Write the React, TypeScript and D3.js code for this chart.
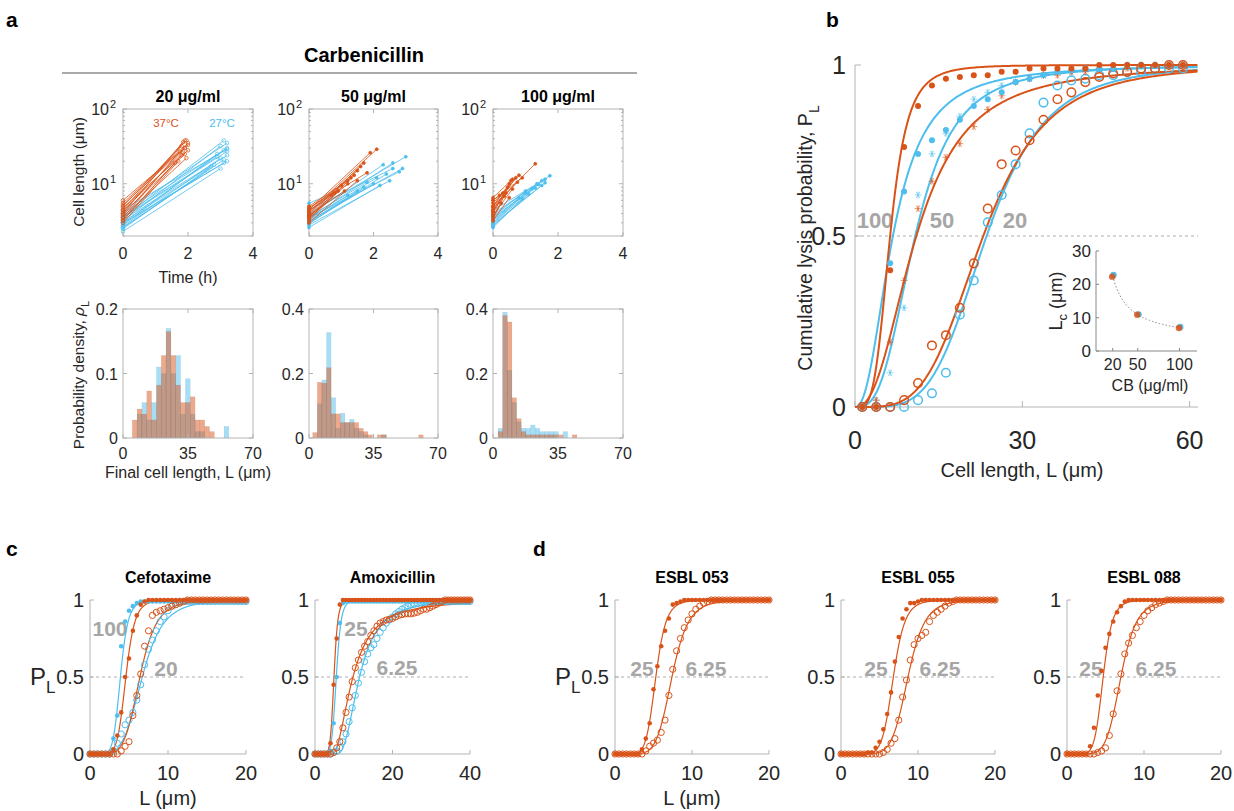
import React, { useEffect, useRef } from "react";
import * as d3 from "d3";

const ORANGE = "#D95319";
const BLUE = "#4DBEEE";
const AXIS = "#b3b3b3";
const INK = "#262626";
const NOTE = "#a6a6a6";
const FONT = "'Liberation Sans', Arial, Helvetica, sans-serif";

// panel a, growth traces: [end time (h), start length, end length] (um)
const growth20Hot = [[1.9,4.5,38],[1.95,5,38],[1.85,4,36],[2.0,5.5,35],[1.8,4.2,32],[1.9,3.8,30],[2.0,4.8,28],[1.75,3.5,27],[1.9,4.0,25],[1.8,3.2,24],[1.95,3.6,22],[1.7,3.0,20],[1.85,4.4,26],[2.0,6,33],[1.6,3.3,19],[1.9,5.2,30]];
const growth20Cold = [[3.1,3.5,38],[3.2,4,35],[3.0,3.2,32],[3.2,3.8,30],[3.1,3.0,28],[3.2,3.5,27],[2.9,2.8,25],[3.2,3.3,24],[3.0,2.7,22],[3.2,3.0,20],[2.8,2.5,18],[3.1,2.9,19],[2.9,3.6,23],[3.0,2.3,16],[3.2,4.5,29],[2.6,2.6,15],[3.1,2.6,21],[2.7,3.1,17]];
const growth50Hot = [[2.1,4.2,29],[1.9,4.5,26],[1.7,3.8,19],[1.6,4,17],[1.5,3.6,15],[1.8,4.8,14],[1.4,3.4,13],[1.2,3.5,10],[1.0,4.2,9.5],[1.1,3.8,8],[0.9,3.2,8],[1.3,4.6,12],[0.8,3.6,7.5],[1.5,3,11],[1.2,5,11],[0.7,4.4,7]];
const growth50Cold = [[3.0,4,23],[2.6,3.5,19],[2.3,3.8,18],[2.9,3.2,16],[2.8,3.5,14.5],[2.4,3,13.5],[2.1,3.3,12],[2.5,2.8,11],[2.0,3.0,10],[1.8,3.6,10.5],[2.2,2.6,9.5],[1.7,3.1,9],[2.6,4.5,16],[1.5,2.9,8],[1.2,3.4,7],[0.9,5.5,8]];
const growth100Hot = [[1.3,5,18.5],[0.8,5.5,13],[0.7,4.5,12],[0.6,5,11.5],[0.5,4.2,10],[0.9,6,12],[0.45,4,9],[0.55,6.5,11],[0.3,5,7.5],[0.4,3.6,7.5],[0.35,4.4,6.8],[0.25,3.4,5.5],[0.6,3.8,8.5],[0.2,6,7],[0.75,4.8,10.5],[0.5,3.2,6.5]];
const growth100Cold = [[1.75,4,12.8],[1.6,3.5,11.5],[1.5,3.8,11],[1.4,3.2,9.8],[1.3,3.0,8.8],[1.5,2.9,9.5],[1.2,3.4,8.6],[1.0,3.0,7.5],[1.1,2.7,7.3],[1.35,4.4,10],[0.9,2.6,6.3],[1.0,3.6,8],[1.6,2.8,10.3],[0.8,3.2,6.5]];

// panel a, histograms of final length (density per bin)
const hist20Hot = [0.028,0.045,0.037,0.073,0.028,0.082,0.128,0.165,0.128,0.082,0.055,0.055,0.064,0.028,0.028,0.018,0.01,0,0,0];
const hist20Cold = [0,0.037,0.055,0.028,0.055,0.11,0.1,0.17,0.1,0.128,0.037,0.092,0.037,0.01,0.01,0,0,0,0,0.018];
const hist50Hot = [0.017,0.173,0.17,0.218,0.075,0.075,0.048,0.048,0.048,0.048,0.03,0.02,0.01,0,0.01,0.01,0,0,0,0,0,0,0,0.01];
const hist50Cold = [0,0.106,0.18,0.327,0.125,0.03,0.077,0.048,0.058,0.03,0.02,0.01,0,0,0,0.01];
const hist100Hot = [0.02,0.38,0.36,0.125,0.06,0.02,0.01,0.01,0.01,0.01,0.01,0.01,0.01,0.01,0,0,0.01];
const hist100Cold = [0.03,0.39,0.21,0.11,0.05,0.03,0.03,0.04,0.03,0.02,0.02,0.02,0.02,0,0.02];

// panel b, cumulative lysis probability
const bLengths = [1.3,3.8,6.3,8.8,11.3,13.8,16.3,18.8,21.3,23.8,26.3,28.8,31.3,33.8,36.3,38.8,41.3,43.8,46.3,48.8,51.3,53.8,56.3,58.8];
const bHot100 = [0,0,0.40,0.76,0.88,0.94,0.96,0.965,0.97,0.97,0.98,0.98,0.99,0.99,0.99,0.99,0.99,1,1,1,1,1,1,1];
const bCold100 = [0,0,0.42,0.63,0.74,0.78,0.81,0.84,0.88,0.90,0.92,0.95,0.96,0.97,0.98,0.985,0.99,0.99,0.99,1,1,1,1,1];
const bHot50 = [0,0.02,0.19,0.37,0.58,0.66,0.73,0.77,0.82,0.87,0.91,0.95,0.96,0.97,0.97,0.98,0.98,0.99,0.99,0.99,1,1,1,1];
const bCold50 = [0,0.02,0.1,0.29,0.62,0.74,0.8,0.85,0.9,0.92,0.94,0.95,0.96,0.97,0.98,0.98,0.99,0.99,0.99,1,1,1,1,1];
const bHot20 = [0,0,0,0.02,0.07,0.18,0.21,0.29,0.42,0.58,0.71,0.75,0.78,0.84,0.90,0.92,0.95,0.965,0.975,0.98,0.99,0.99,1,1];
const bCold20 = [0,0,0,0,0.02,0.04,0.1,0.27,0.37,0.54,0.62,0.71,0.80,0.89,0.94,0.955,0.96,0.97,0.97,0.98,0.98,0.99,0.99,0.99];
// fit parameters [L0, Lc, n]
const bFitHot100 = [0, 6.3, 4];
const bFitCold100 = [0, 6.8, 2.3];
const bFitHot50 = [0, 11, 2.4];
const bFitCold50 = [0, 10.8, 3];
const bFitHot20 = [0, 23, 4];
const bFitCold20 = [0, 23.6, 4.4];

// inset: critical length vs carbenicillin
const cbDoses = [20, 50, 100];
const lcCold = [22.8, 11, 7.2];
const lcHot = [22.3, 10.9, 6.9];
const lcFit = [3, 19.5, 0.984]; // offset, amplitude, exponent

// panel c
const cefoCold100 = [0,0,0,0,0,0,0.1,0.25,0.7,0.86,0.93,0.96,0.98,0.99,0.99,0.99,0.99,0.99,0.99,0.99,0.99,0.99,0.99,0.99,0.99,0.99,0.99,0.99,0.99,0.99,0.99,0.99,0.99,0.99,0.99,0.99,0.99,0.99,0.99,0.99,0.99];
const cefoHot100 = [0,0,0,0,0,0,0.03,0.12,0.27,0.5,0.62,0.8,0.9,0.97,0.99,1,1,1,1,1,1,1,1,1,1,1,1,1,1,1,1,1,1,1,1,1,1,1,1,1,1];
const cefoHot20 = [0,0,0,0,0,0,0,0,0.02,0.05,0.08,0.25,0.38,0.52,0.7,0.8,0.9,0.92,0.93,0.94,0.95,0.96,0.97,0.98,0.99,1,1,1,1,1,1,1,1,1,1,1,1,1,1,1,1];
const cefoCold20 = [0,0,0,0,0,0,0.02,0.07,0.13,0.19,0.22,0.27,0.35,0.45,0.58,0.68,0.74,0.8,0.86,0.89,0.93,0.96,0.97,0.98,0.99,0.99,0.99,0.99,0.99,0.99,0.99,0.99,0.99,0.99,0.99,0.99,0.99,0.99,0.99,0.99,0.99];
const amoxHot25 = [0,0,0,0,0,0.07,0.45,0.75,0.97,1,1,1,1,1,1,1,1,1,1,1,1,1,1,1,1,1,1,1,1,1,1,1,1,1,1,1,1,1,1,1,1,1,1,1,1,1,1,1,1,1,1];
const amoxCold25 = [0,0,0,0,0,0.02,0.2,0.5,0.85,0.98,0.99,0.99,0.99,0.99,0.99,0.99,0.99,0.99,0.99,0.99,0.99,0.99,0.99,0.99,0.99,0.99,0.99,0.99,0.99,0.99,0.99,0.99,0.99,0.99,0.99,0.99,0.99,0.99,0.99,0.99,0.99,0.99,0.99,0.99,0.99,0.99,0.99,0.99,0.99,0.99,0.99];
const amoxHot625 = [0,0,0,0,0,0,0.01,0.04,0.08,0.17,0.27,0.37,0.47,0.56,0.61,0.66,0.7,0.73,0.77,0.8,0.83,0.85,0.86,0.87,0.875,0.88,0.89,0.9,0.905,0.91,0.91,0.91,0.915,0.92,0.93,0.94,0.94,0.95,0.96,0.97,0.98,0.99,1,1,1,1,1,1,1,1,1];
const amoxCold625 = [0,0,0,0,0,0,0.01,0.02,0.04,0.08,0.13,0.21,0.3,0.38,0.46,0.53,0.6,0.65,0.69,0.71,0.75,0.79,0.82,0.85,0.87,0.89,0.91,0.925,0.94,0.95,0.96,0.97,0.975,0.98,0.985,0.99,0.99,0.99,0.99,0.99,0.99,0.99,0.99,0.99,0.99,0.99,0.99,0.99,0.99,0.99,0.99];

// panel d
const esbl053High = [0,0,0,0,0,0,0,0.03,0.1,0.2,0.42,0.57,0.7,0.8,0.88,0.97,0.98,0.99,1,1,1,1,1,1,1,1,1,1,1,1,1,1,1,1,1,1,1,1,1,1,1];
const esbl053Low = [0,0,0,0,0,0,0,0,0.02,0.05,0.07,0.09,0.14,0.22,0.38,0.55,0.67,0.75,0.82,0.87,0.91,0.94,0.96,0.98,0.99,1,1,1,1,1,1,1,1,1,1,1,1,1,1,1,1];
const esbl055High = [0,0,0,0,0,0,0,0.01,0.01,0.04,0.08,0.16,0.26,0.4,0.6,0.76,0.88,0.94,0.98,0.98,0.99,1,1,1,1,1,1,1,1,1,1,1,1,1,1,1,1,1,1,1,1];
const esbl055Low = [0,0,0,0,0,0,0,0,0,0,0,0.01,0.03,0.07,0.1,0.22,0.37,0.48,0.61,0.71,0.75,0.77,0.79,0.86,0.9,0.92,0.94,0.96,0.98,0.99,1,1,1,1,1,1,1,1,1,1,1];
const esbl088High = [0,0,0,0,0,0,0.05,0.17,0.38,0.54,0.69,0.78,0.86,0.92,0.96,0.99,1,1,1,1,1,1,1,1,1,1,1,1,1,1,1,1,1,1,1,1,1,1,1,1,1];
const esbl088Low = [0,0,0,0,0,0,0,0,0.01,0.02,0.04,0.12,0.26,0.41,0.52,0.65,0.72,0.77,0.82,0.86,0.9,0.93,0.95,0.97,0.98,0.99,1,1,1,1,1,1,1,1,1,1,1,1,1,1,1];

const hill = (L: number, p: number[]) => {
  const d = Math.max(0, L - p[0]);
  const c = p[1] - p[0];
  return Math.pow(d, p[2]) / (Math.pow(d, p[2]) + Math.pow(c, p[2]));
};

export default function App() {
  const svgRef = useRef<SVGSVGElement>(null);

  useEffect(() => {
    const svg = d3.select(svgRef.current);
    svg.selectAll("*").remove();
    svg.attr("font-family", FONT);

    const label = (g: any, x: number, y: number, s: string, size: number, opts: any = {}) =>
      g.append("text").attr("x", x).attr("y", y).attr("font-size", size)
        .attr("text-anchor", opts.anchor || "middle")
        .attr("font-weight", opts.bold ? "bold" : "normal")
        .attr("fill", opts.fill || INK).text(s);

    // panel letters
    [["a", 6, 27], ["b", 826, 27], ["c", 6, 556], ["d", 533, 556]].forEach(([s, x, y]) =>
      label(svg, x as number, y as number, s as string, 21, { bold: true, anchor: "start", fill: "#000" }));

    // ---- panel a ----
    label(svg, 364, 62, "Carbenicillin", 20, { bold: true, fill: "#000" });
    svg.append("line").attr("x1", 62).attr("x2", 637).attr("y1", 73).attr("y2", 73)
      .attr("stroke", "#555").attr("stroke-width", 1);

    const cols = [
      { x0: 123, x1: 253, title: "20 μg/ml", hot: growth20Hot, cold: growth20Cold, open: true,
        hHot: hist20Hot, hCold: hist20Cold, start: 5, width: 2.6, ymax: 0.2, yt: [0, 0.1, 0.2] },
      { x0: 309, x1: 438, title: "50 μg/ml", hot: growth50Hot, cold: growth50Cold, open: false,
        hHot: hist50Hot, hCold: hist50Cold, start: 2, width: 2.5, ymax: 0.4, yt: [0, 0.2, 0.4] },
      { x0: 493, x1: 623, title: "100 μg/ml", hot: growth100Hot, cold: growth100Cold, open: false,
        hHot: hist100Hot, hCold: hist100Cold, start: 2.7, width: 2.5, ymax: 0.4, yt: [0, 0.2, 0.4] },
    ];

    cols.forEach((p, i) => {
      // growth traces
      const g = svg.append("g");
      const x = d3.scaleLinear().domain([0, 4]).range([p.x0, p.x1]);
      const y = d3.scaleLog().domain([2, 100]).range([236, 109]);
      g.append("rect").attr("x", p.x0).attr("y", 109).attr("width", p.x1 - p.x0).attr("height", 127)
        .attr("fill", "none").attr("stroke", AXIS);
      [0, 2, 4].forEach((t) => {
        g.append("line").attr("x1", x(t)).attr("x2", x(t)).attr("y1", 236).attr("y2", 232).attr("stroke", AXIS);
        g.append("line").attr("x1", x(t)).attr("x2", x(t)).attr("y1", 109).attr("y2", 113).attr("stroke", AXIS);
        label(g, x(t), 259, String(t), 16);
      });
      y.ticks().forEach((v) => {
        const major = v === 10 || v === 100;
        const len = major ? 4 : 2;
        g.append("line").attr("x1", p.x0).attr("x2", p.x0 + len).attr("y1", y(v)).attr("y2", y(v)).attr("stroke", AXIS);
        g.append("line").attr("x1", p.x1).attr("x2", p.x1 - len).attr("y1", y(v)).attr("y2", y(v)).attr("stroke", AXIS);
        if (major) {
          g.append("text").attr("x", p.x0 - 14).attr("y", y(v) + 6).attr("font-size", 16)
            .attr("text-anchor", "end").attr("fill", INK).text("10");
          g.append("text").attr("x", p.x0 - 7).attr("y", y(v) - 1).attr("font-size", 11)
            .attr("text-anchor", "end").attr("fill", INK).text(v === 10 ? "1" : "2");
        }
      });
      label(g, (p.x0 + p.x1) / 2, 102, p.title, 16, { bold: true, fill: "#000" });
      const line = d3.line<number[]>().x((d) => x(d[0])).y((d) => y(d[1]));
      ([[p.cold, BLUE], [p.hot, ORANGE]] as [number[][], string][]).forEach(([rows, c]) => {
        rows.forEach(([te, a, b]) => {
          const pts = [[0, a], [te, b]];
          g.append("path").attr("d", line(pts)).attr("fill", "none").attr("stroke", c).attr("stroke-width", 0.8);
          pts.forEach((d) => g.append("circle").attr("cx", x(d[0])).attr("cy", y(d[1]))
            .attr("r", p.open ? 1.8 : 1.5).attr("fill", p.open ? "none" : c).attr("stroke", c).attr("stroke-width", 0.7));
        });
      });
      if (i === 0) {
        label(g, 166, 127, "37°C", 11.5, { fill: ORANGE });
        label(g, 222, 127, "27°C", 11.5, { fill: BLUE });
      }

      // histograms
      const h = svg.append("g");
      const hx = d3.scaleLinear().domain([0, 70]).range([p.x0, p.x1]);
      const hy = d3.scaleLinear().domain([0, p.ymax]).range([438, 309]);
      ([[p.hCold, BLUE], [p.hHot, ORANGE]] as [number[], string][]).forEach(([vals, c]) => {
        vals.forEach((v, k) => {
          if (v <= 0) return;
          const a = hx(p.start + k * p.width);
          const b = hx(p.start + (k + 1) * p.width);
          h.append("rect").attr("x", a).attr("y", hy(v)).attr("width", b - a).attr("height", hy(0) - hy(v))
            .attr("fill", c).attr("fill-opacity", 0.5).attr("stroke", "#000").attr("stroke-opacity", 0.08).attr("stroke-width", 0.5);
        });
      });
      h.append("rect").attr("x", p.x0).attr("y", 309).attr("width", p.x1 - p.x0).attr("height", 129)
        .attr("fill", "none").attr("stroke", AXIS);
      [0, 35, 70].forEach((t) => {
        h.append("line").attr("x1", hx(t)).attr("x2", hx(t)).attr("y1", 438).attr("y2", 434).attr("stroke", AXIS);
        h.append("line").attr("x1", hx(t)).attr("x2", hx(t)).attr("y1", 309).attr("y2", 313).attr("stroke", AXIS);
        label(h, hx(t), 459, String(t), 16);
      });
      p.yt.forEach((t) => {
        h.append("line").attr("x1", p.x0).attr("x2", p.x0 + 4).attr("y1", hy(t)).attr("y2", hy(t)).attr("stroke", AXIS);
        h.append("line").attr("x1", p.x1).attr("x2", p.x1 - 4).attr("y1", hy(t)).attr("y2", hy(t)).attr("stroke", AXIS);
        label(h, p.x0 - 5, hy(t) + 6, String(t), 16, { anchor: "end" });
      });
    });

    label(svg, 188, 283, "Time (h)", 16);
    label(svg, 188, 478, "Final cell length, L (μm)", 16);
    svg.append("text").attr("transform", "translate(84,172) rotate(-90)").attr("font-size", 15.5)
      .attr("text-anchor", "middle").attr("fill", INK).text("Cell length (μm)");
    const pd = svg.append("text").attr("transform", "translate(84,375) rotate(-90)").attr("font-size", 15.5)
      .attr("text-anchor", "middle").attr("fill", INK);
    pd.append("tspan").text("Probability density, ");
    pd.append("tspan").attr("font-style", "italic").text("ρ");
    pd.append("tspan").attr("font-size", 11).attr("dy", 5).text("L");

    // ---- panel b ----
    const b = svg.append("g");
    const bx = d3.scaleLinear().domain([0, 61.5]).range([855, 1198]);
    const by = d3.scaleLinear().domain([0, 1]).range([407, 65]);
    b.append("line").attr("x1", 855).attr("x2", 855).attr("y1", 65).attr("y2", 407).attr("stroke", AXIS);
    b.append("line").attr("x1", 855).attr("x2", 1198).attr("y1", 407).attr("y2", 407).attr("stroke", AXIS);
    b.append("line").attr("x1", 855).attr("x2", 1198).attr("y1", by(0.5)).attr("y2", by(0.5))
      .attr("stroke", "#999").attr("stroke-dasharray", "3,3").attr("stroke-width", 0.8);
    [0, 0.5, 1].forEach((t) => {
      b.append("line").attr("x1", 855).attr("x2", 861).attr("y1", by(t)).attr("y2", by(t)).attr("stroke", AXIS);
      label(b, 846, by(t) + 9, String(t), 25, { anchor: "end" });
    });
    [0, 30, 60].forEach((t) => {
      b.append("line").attr("x1", bx(t)).attr("x2", bx(t)).attr("y1", 407).attr("y2", 401).attr("stroke", AXIS);
      label(b, bx(t), 449, String(t), 25);
    });
    label(b, 1022, 477, "Cell length, L (μm)", 20);
    const yl = b.append("text").attr("transform", "translate(812,238) rotate(-90)").attr("font-size", 19.5)
      .attr("text-anchor", "middle").attr("fill", INK);
    yl.append("tspan").text("Cumulative lysis probability, P");
    yl.append("tspan").attr("font-size", 14).attr("dy", 7).text("L");

    [["100", 875], ["50", 942], ["20", 1015]].forEach(([s, x]) =>
      label(b, x as number, 228, s as string, 22, { bold: true, fill: NOTE }));

    const bSample = d3.range(0, 61.5, 0.2);
    const bFits: [number[], string][] = [[bFitCold100, BLUE], [bFitCold50, BLUE], [bFitCold20, BLUE],
      [bFitHot100, ORANGE], [bFitHot50, ORANGE], [bFitHot20, ORANGE]];
    bFits.forEach(([pp, c]) => {
      const ln = d3.line<number>().x((L) => bx(L)).y((L) => by(hill(L, pp)));
      b.append("path").attr("d", ln(bSample)).attr("fill", "none").attr("stroke", c).attr("stroke-width", 2);
    });

    const star = (g: any, cx: number, cy: number, c: string) => {
      const r = 3.5;
      [0, 60, 120].forEach((a) => {
        const dx = r * Math.cos((a * Math.PI) / 180);
        const dy = r * Math.sin((a * Math.PI) / 180);
        g.append("line").attr("x1", cx - dx).attr("x2", cx + dx).attr("y1", cy - dy).attr("y2", cy + dy)
          .attr("stroke", c).attr("stroke-width", 1).attr("stroke-opacity", 0.6);
      });
      g.append("line").attr("x1", cx).attr("x2", cx).attr("y1", cy - r).attr("y2", cy + r)
        .attr("stroke", c).attr("stroke-width", 1).attr("stroke-opacity", 0.6);
    };
    const bSeries: [number[], string, string][] = [[bCold20, BLUE, "o"], [bHot20, ORANGE, "o"],
      [bCold50, BLUE, "*"], [bHot50, ORANGE, "*"], [bCold100, BLUE, "."], [bHot100, ORANGE, "."]];
    bSeries.forEach(([vals, c, m]) => {
      vals.forEach((v, k) => {
        const cx = bx(bLengths[k]);
        const cy = by(v);
        if (m === "o") b.append("circle").attr("cx", cx).attr("cy", cy).attr("r", 4.3).attr("fill", "none").attr("stroke", c).attr("stroke-width", 1.5);
        else if (m === "*") star(b, cx, cy, c);
        else b.append("circle").attr("cx", cx).attr("cy", cy).attr("r", 3).attr("fill", c);
      });
    });

    // inset
    const ins = svg.append("g");
    const ix = d3.scaleLinear().domain([0, 121]).range([1096, 1197]);
    const iy = d3.scaleLinear().domain([0, 30]).range([351, 251]);
    ins.append("line").attr("x1", 1096).attr("x2", 1096).attr("y1", 251).attr("y2", 351).attr("stroke", "#888");
    ins.append("line").attr("x1", 1096).attr("x2", 1197).attr("y1", 351).attr("y2", 351).attr("stroke", "#888");
    [0, 10, 20, 30].forEach((t) => {
      ins.append("line").attr("x1", 1096).attr("x2", 1099).attr("y1", iy(t)).attr("y2", iy(t)).attr("stroke", "#888");
      label(ins, 1091, iy(t) + 6, String(t), 17, { anchor: "end" });
    });
    cbDoses.forEach((t) => {
      ins.append("line").attr("x1", ix(t)).attr("x2", ix(t)).attr("y1", 351).attr("y2", 348).attr("stroke", "#888");
      label(ins, ix(t), 370, String(t), 16);
    });
    label(ins, 1150, 391, "CB (μg/ml)", 16);
    const lc = ins.append("text").attr("transform", "translate(1062,301) rotate(-90)").attr("font-size", 18)
      .attr("text-anchor", "middle").attr("fill", INK);
    lc.append("tspan").text("L");
    lc.append("tspan").attr("font-size", 13).attr("dy", 5).text("c");
    lc.append("tspan").attr("dy", -5).text(" (μm)");
    const lcLine = d3.line<number>().x((v) => ix(v)).y((v) => iy(lcFit[0] + lcFit[1] * Math.pow(v / 20, -lcFit[2])));
    ins.append("path").attr("d", lcLine(d3.range(20, 100.5, 1))).attr("fill", "none").attr("stroke", "#888")
      .attr("stroke-dasharray", "1.5,2").attr("stroke-width", 1);
    cbDoses.forEach((v, k) => {
      ins.append("circle").attr("cx", ix(v) + 0.8).attr("cy", iy(lcCold[k])).attr("r", 3.2).attr("fill", BLUE);
      ins.append("circle").attr("cx", ix(v) - 0.5).attr("cy", iy(lcHot[k])).attr("r", 3.2).attr("fill", ORANGE).attr("fill-opacity", 0.85);
    });

    // ---- panels c and d ----
    type Series = { ys: number[]; step: number; color: string; open: boolean };
    type Cdf = { x0: number; x1: number; xmax: number; xticks: number[]; title: string; series: Series[];
      fits: [number[], string][]; notes: [string, number, number][]; ylab: boolean; xlab: boolean };
    const drawCdf = (p: Cdf) => {
      const g = svg.append("g");
      const x = d3.scaleLinear().domain([0, p.xmax]).range([p.x0, p.x1]);
      const y = d3.scaleLinear().domain([0, 1]).range([754, 600]);
      g.append("line").attr("x1", p.x0).attr("x2", p.x0).attr("y1", 600).attr("y2", 754).attr("stroke", AXIS);
      g.append("line").attr("x1", p.x0).attr("x2", p.x1).attr("y1", 754).attr("y2", 754).attr("stroke", AXIS);
      g.append("line").attr("x1", p.x0).attr("x2", p.x1).attr("y1", y(0.5)).attr("y2", y(0.5))
        .attr("stroke", "#999").attr("stroke-dasharray", "3,3").attr("stroke-width", 0.8);
      [0, 0.5, 1].forEach((t) => {
        g.append("line").attr("x1", p.x0).attr("x2", p.x0 + 4).attr("y1", y(t)).attr("y2", y(t)).attr("stroke", AXIS);
        label(g, p.x0 - 6, y(t) + 7, String(t), 20, { anchor: "end" });
      });
      p.xticks.forEach((t) => {
        g.append("line").attr("x1", x(t)).attr("x2", x(t)).attr("y1", 754).attr("y2", 750).attr("stroke", AXIS);
        label(g, x(t), 780, String(t), 20);
      });
      label(g, (p.x0 + p.x1) / 2, 583, p.title, 16, { bold: true, fill: "#000" });
      p.notes.forEach(([s, nx, ny]) => label(g, nx, ny, s, 21, { bold: true, fill: NOTE }));
      if (p.ylab) {
        const t = g.append("text").attr("x", p.x0 - 60).attr("y", 685).attr("font-size", 24).attr("fill", INK);
        t.append("tspan").text("P");
        t.append("tspan").attr("font-size", 17).attr("dy", 8).text("L");
      }
      if (p.xlab) label(g, (p.x0 + p.x1) / 2, 805, "L (μm)", 20);
      const sample = d3.range(0, p.xmax + 0.01, p.xmax / 400);
      p.fits.forEach(([pp, c]) => {
        const ln = d3.line<number>().x((L) => x(L)).y((L) => y(hill(L, pp)));
        g.append("path").attr("d", ln(sample)).attr("fill", "none").attr("stroke", c).attr("stroke-width", 1.2);
      });
      p.series.forEach((s) => {
        s.ys.forEach((v, k) => {
          const c = g.append("circle").attr("cx", x(k * s.step)).attr("cy", y(v));
          if (s.open) c.attr("r", 3.1).attr("fill", "none").attr("stroke", s.color).attr("stroke-width", 1);
          else c.attr("r", 2.3).attr("fill", s.color);
        });
      });
    };

    drawCdf({ x0: 90, x1: 246, xmax: 20, xticks: [0, 10, 20], title: "Cefotaxime",
      series: [
        { ys: cefoCold20, step: 0.5, color: BLUE, open: true },
        { ys: cefoCold100, step: 0.5, color: BLUE, open: false },
        { ys: cefoHot20, step: 0.5, color: ORANGE, open: true },
        { ys: cefoHot100, step: 0.5, color: ORANGE, open: false },
      ],
      fits: [[[0, 3.9, 8], BLUE], [[0, 6.7, 5], BLUE], [[0, 4.6, 8], ORANGE], [[0, 6.4, 6], ORANGE]],
      notes: [["100", 110, 636], ["20", 166, 676]], ylab: true, xlab: true });

    drawCdf({ x0: 315, x1: 470, xmax: 40, xticks: [0, 20, 40], title: "Amoxicillin",
      series: [
        { ys: amoxCold625, step: 0.8, color: BLUE, open: true },
        { ys: amoxCold25, step: 0.8, color: BLUE, open: false },
        { ys: amoxHot625, step: 0.8, color: ORANGE, open: true },
        { ys: amoxHot25, step: 0.8, color: ORANGE, open: false },
      ],
      fits: [[[0, 5.5, 9], BLUE], [[5.5, 11.5, 2.5], BLUE], [[0, 4.9, 10], ORANGE], [[4.5, 9.8, 2], ORANGE]],
      notes: [["25", 356, 636], ["6.25", 397, 675]], ylab: false, xlab: false });

    const esbl: [string, number, number[], number[], number[], number[], number, number][] = [
      ["ESBL 053", 615, esbl053High, esbl053Low, [0, 5.3, 8], [0, 7.4, 7], 642, 706],
      ["ESBL 055", 841, esbl055High, esbl055Low, [0, 6.8, 9], [0, 8.7, 8], 876, 940],
      ["ESBL 088", 1067, esbl088High, esbl088Low, [0, 4.7, 8], [0, 7, 7], 1091, 1156],
    ];
    esbl.forEach(([title, x0, hi, lo, fh, fl, n1, n2], k) =>
      drawCdf({ x0, x1: x0 + 154, xmax: 20, xticks: [0, 10, 20], title,
        series: [
          { ys: lo, step: 0.5, color: ORANGE, open: true },
          { ys: hi, step: 0.5, color: ORANGE, open: false },
        ],
        fits: [[fh, ORANGE], [fl, ORANGE]],
        notes: [["25", n1, 676], ["6.25", n2, 676]], ylab: k === 0, xlab: k === 0 }));
  }, []);

  return (
    <svg ref={svgRef} width={1234} height={811}
      style={{ position: "absolute", left: 0, top: 0, background: "#fff" }} />
  );
}
